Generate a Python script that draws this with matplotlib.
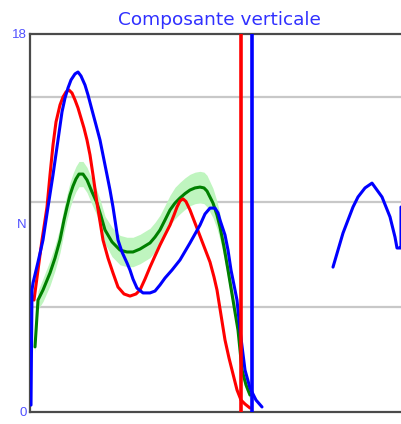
import matplotlib
matplotlib.use("Agg")
import matplotlib.pyplot as plt

# ---- data (x: time units along the axis, y: force units 0..18) ----
red_x = [4, 8, 12, 17, 20, 23, 26, 30, 33, 36, 39, 42, 45, 48, 51, 54, 57, 60, 63, 67,
         73, 78, 83, 88, 94, 100, 106, 110, 115, 120, 125, 130, 135, 140, 144, 147, 150,
         153, 156, 160, 165, 170, 175, 180, 184, 187, 191, 195, 199, 202, 207, 211, 215, 220]
red_y = [5.33, 6.76, 8.19, 9.76, 11.29, 12.71, 13.81, 14.62, 15.00, 15.24, 15.33, 15.19,
         14.86, 14.48, 14.00, 13.52, 12.95, 12.24, 11.29, 9.95, 8.19, 7.33, 6.62, 5.95,
         5.62, 5.52, 5.62, 5.81, 6.33, 6.90, 7.43, 7.95, 8.43, 8.90, 9.38, 9.76, 10.05,
         10.15, 10.02, 9.62, 9.00, 8.38, 7.76, 7.14, 6.43, 5.81, 4.62, 3.43, 2.57, 2.00,
         1.05, 0.57, 0.38, 0.19]

blue_x = [1, 2, 3, 8, 13, 18, 23, 28, 32, 35, 38, 41, 45, 48, 51, 55, 58, 62, 66, 70,
          74, 77, 80, 83, 88, 92, 97, 100, 103, 107, 113, 120, 125, 130, 135, 142, 150,
          160, 170, 175, 180, 185, 188, 190, 195, 198, 201, 204, 207, 210, 215, 220, 226, 232]
blue_y = [0.33, 5.81, 6.14, 7.14, 8.19, 9.76, 11.29, 12.95, 14.29, 14.95, 15.43, 15.81,
          16.10, 16.19, 16.00, 15.57, 15.10, 14.38, 13.67, 12.95, 12.00, 11.29, 10.57,
          9.76, 8.19, 7.62, 7.10, 6.76, 6.33, 5.90, 5.67, 5.67, 5.76, 6.05, 6.38, 6.76,
          7.24, 8.05, 8.90, 9.43, 9.71, 9.71, 9.48, 9.14, 8.43, 7.71, 6.76, 6.05, 5.33,
          3.90, 2.00, 1.14, 0.57, 0.24]

blue2_x = [303, 313, 323, 328, 335, 342, 352, 360, 365, 367, 370, 371, 371]
blue2_y = [6.90, 8.52, 9.76, 10.24, 10.67, 10.90, 10.24, 9.29, 8.33, 7.81, 7.81, 7.81, 9.76]

green_x = [5, 8, 13, 20, 25, 30, 34, 37, 40, 43, 46, 49, 53, 57, 62, 67, 71, 75, 82, 90,
           97, 103, 110, 120, 125, 130, 135, 140, 145, 150, 155, 160, 165, 170, 174, 177,
           183, 187, 190, 194, 198, 203, 208, 212, 216, 220]
green_y = [3.10, 5.33, 5.81, 6.62, 7.33, 8.19, 9.14, 9.76, 10.33, 10.76, 11.10, 11.33,
           11.33, 11.05, 10.48, 9.95, 9.33, 8.67, 8.10, 7.71, 7.62, 7.62, 7.76, 8.05, 8.33,
           8.67, 9.14, 9.62, 9.95, 10.19, 10.40, 10.57, 10.67, 10.71, 10.67, 10.52, 9.95,
           9.38, 8.81, 7.86, 6.76, 5.33, 3.90, 2.00, 1.29, 0.81]
green_sd = [0.3, 0.45, 0.55, 0.6, 0.6, 0.6, 0.6, 0.6, 0.6, 0.6, 0.6, 0.6, 0.6, 0.6, 0.6,
            0.6, 0.65, 0.65, 0.7, 0.7, 0.7, 0.7, 0.7, 0.7, 0.7, 0.7, 0.7, 0.7, 0.75, 0.75,
            0.75, 0.75, 0.75, 0.75, 0.75, 0.75, 0.7, 0.65, 0.6, 0.5, 0.45, 0.4, 0.35, 0.3,
            0.25, 0.2]

red_event = 211
blue_event = 222

y_ticks = [0, 9, 18]
y_ticklabels = ["0", "N", "18"]
grid_levels = [5, 10, 15]
title = "Composante verticale"

# ---- figure ----
fig = plt.figure(figsize=(4.02, 4.24), dpi=100)
ax = fig.add_axes([30 / 402, 12 / 424, 372 / 402, 378 / 424])
ax.set_xlim(0, 372)
ax.set_ylim(0, 18)

for g in grid_levels:
    ax.axhline(g, color="#c8c8c8", lw=1.6, zorder=1)

lo = [m - s for m, s in zip(green_y, green_sd)]
hi = [m + s for m, s in zip(green_y, green_sd)]
ax.fill_between(green_x, lo, hi, color="#bff5bf", lw=0, zorder=2)
style = dict(lw=2.2, solid_joinstyle="round", solid_capstyle="round")
ax.plot(green_x, green_y, color="#008000", zorder=3, **style)
ax.plot(red_x, red_y, color="#ff0000", zorder=4, **style)
ax.plot(blue_x, blue_y, color="#0000ff", zorder=5, **style)
ax.plot(blue2_x, blue2_y, color="#0000ff", zorder=5, **style)
ax.axvline(red_event, color="#ff0000", lw=2.6, zorder=6)
ax.axvline(blue_event, color="#0000ff", lw=2.6, zorder=6)

ax.spines["right"].set_visible(False)
for side in ["left", "top", "bottom"]:
    ax.spines[side].set_color("#4a4a4a")
    ax.spines[side].set_linewidth(1.6)

ax.set_xticks([])
ax.set_yticks(y_ticks)
ax.set_yticklabels(y_ticklabels, color="#5050ff", fontsize=9.5, family="Liberation Sans")
ax.tick_params(axis="y", length=0, pad=2.5)

fig.text(219.5 / 402, 1 - 25 / 424, title, ha="center", va="baseline",
         color="#3030ff", fontsize=13.3, family="DejaVu Sans")

fig.savefig("out.png", dpi=100)
